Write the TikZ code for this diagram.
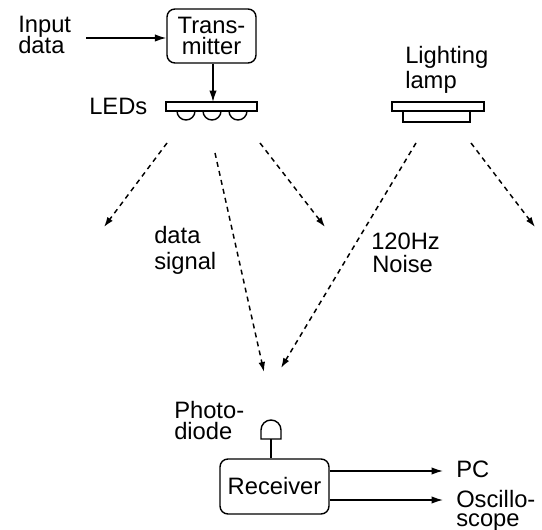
\documentclass[tikz,border=0pt]{standalone}
\usepackage{fontspec}
\setmainfont{Liberation Sans}
\usetikzlibrary{arrows.meta}
\tikzset{
  every picture/.style={x=0.75pt,y=-0.75pt},
  lbl/.style={inner sep=0pt,font=\fontsize{17.8}{15.75}\selectfont,align=left,anchor=base west},
  cbox/.style={draw,line width=1.05pt,rounded corners=6pt,inner sep=0pt,font=\fontsize{17.8}{15.75}\selectfont,align=center},
  bar/.style={draw,line width=1.05pt,inner sep=0pt},
  conn/.style={line width=1.05pt,-{Latex[length=8.5pt,width=5.5pt]}},
  dashconn/.style={line width=1.1pt,dash pattern=on 3.7pt off 3.2pt,-{Latex[length=7.5pt,width=5pt]}},
  wire/.style={line width=1.05pt}
}
\begin{document}
\begin{tikzpicture}
\useasboundingbox (0,0) rectangle (542,530);
% Transmitter side
\node[cbox,minimum width=66.75pt,minimum height=40.5pt] (tx) at (211.5,36) {Trans-\\mitter};
\node[bar,minimum width=68.25pt,minimum height=6.75pt] (ledbar) at (211.5,106.5) {};
\coordinate (inp) at (86,38);
\coordinate (txin) at (tx.west |- inp);
\draw[conn] (inp) -- (txin);
\draw[conn] (tx.south -| 213,0) -- (213,102);
\draw[wire] (177,111) arc[start angle=180,end angle=0,radius=9];
\draw[wire] (203,111) arc[start angle=180,end angle=0,radius=9];
\draw[wire] (229,111) arc[start angle=180,end angle=0,radius=9];
\node[lbl] (input) at (18,33) {Input};
\node[lbl] (data) at (18,54) {data};
\node[lbl] (leds) at (89,115) {LEDs};
% Lamp
\node[bar,minimum width=69pt,minimum height=6.75pt] (lampbar) at (438,106.5) {};
\node[bar,minimum width=50.25pt,minimum height=8.25pt] (lamp) at (436.5,116.5) {};
\node[lbl] (lt1) at (405,64) {Lighting};
\node[lbl] (lt2) at (405,89) {lamp};
% Dashed rays
\coordinate (r1a) at (167,143); \coordinate (r1b) at (104,227);
\coordinate (r2a) at (215,153); \coordinate (r2b) at (264,372);
\coordinate (r3a) at (260,143); \coordinate (r3b) at (325,227);
\coordinate (r4a) at (416,143); \coordinate (r4b) at (281,368);
\coordinate (r5a) at (471,143); \coordinate (r5b) at (535,227);
\foreach \s/\e in {r1a/r1b,r2a/r2b,r3a/r3b,r4a/r4b,r5a/r5b}{\draw[dashconn] (\s) -- (\e);}
\node[lbl] (ds1) at (154,244) {data};
\node[lbl] (ds2) at (154,270) {signal};
\node[lbl] (nz1) at (371,250) {120Hz};
\node[lbl] (nz2) at (372,273) {Noise};
% Receiver
\node[cbox,minimum width=81.75pt,minimum height=41.25pt] (rx) at (274.5,486.5) {Receiver};
\draw[wire] (261,439) -- (261,430) arc[start angle=180,end angle=360,radius=10] -- (281,439) -- cycle;
\coordinate (pd) at (271,439);
\draw[wire] (pd) -- (pd |- rx.north);
\node[lbl] (ph1) at (174,418) {Photo-};
\node[lbl] (ph2) at (174,439) {diode};
\coordinate (pc) at (443,471);
\coordinate (os) at (443,500);
\draw[conn] (rx.east |- pc) -- (pc);
\draw[conn] (rx.east |- os) -- (os);
\node[lbl] (pcl) at (456,477) {PC};
\node[lbl] (o1) at (456,507) {Oscillo-};
\node[lbl] (o2) at (456,526) {scope};
\end{tikzpicture}
\end{document}
